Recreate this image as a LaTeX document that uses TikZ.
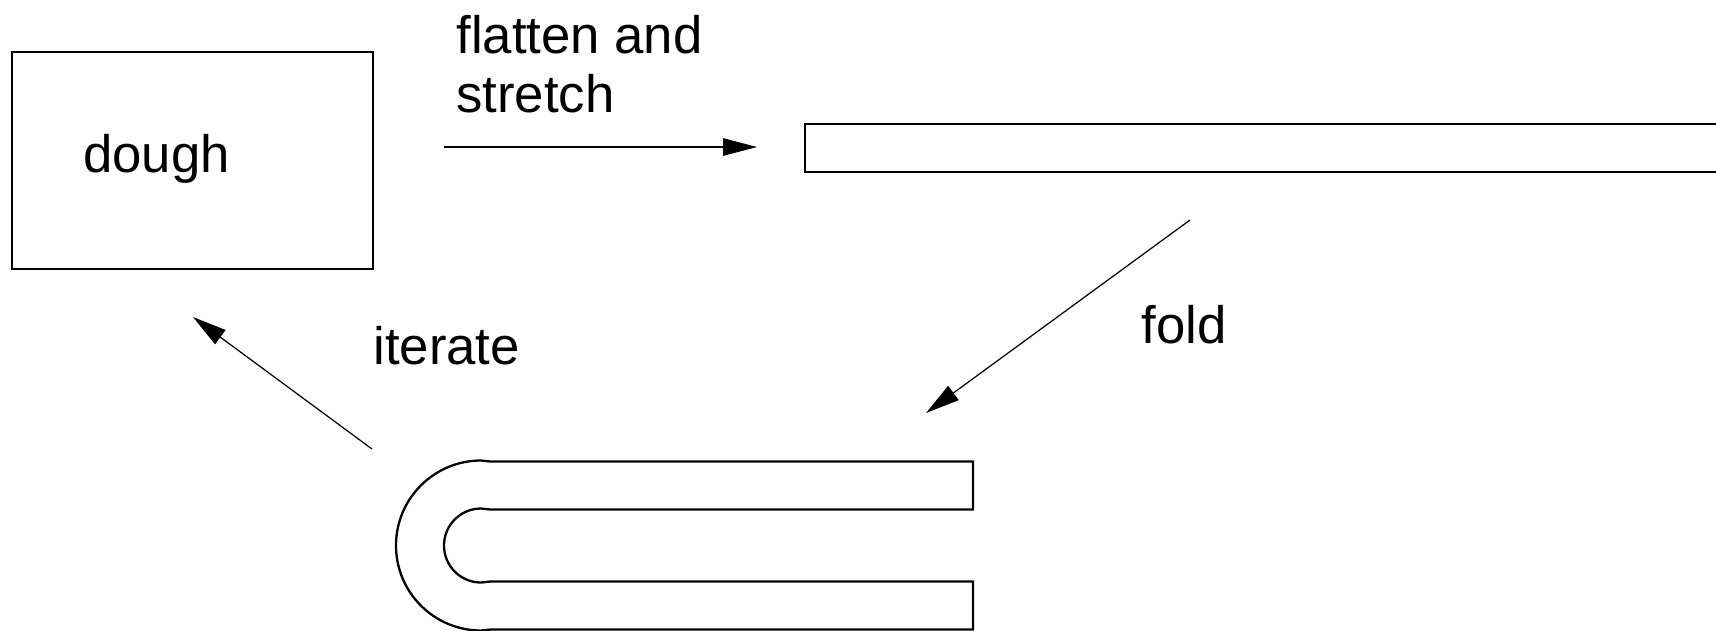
\documentclass[tikz,border=0pt]{standalone}
\usepackage{fontspec}
\setmainfont{Liberation Sans}
\usetikzlibrary{arrows.meta}
\begin{document}
\begin{tikzpicture}[x=0.02cm, y=-0.02cm,
  shape line/.style={line width=1.3pt, line join=miter},
  flow/.style={line width=0.7pt, -{Triangle[length=0.68cm, width=0.35cm]}},
  label/.style={inner sep=0pt, anchor=base west, font=\fontsize{30}{36}\selectfont}]
  \clip (0,0) rectangle (1716,630);
  \fill[white] (0,0) rectangle (1716,630);

  % lump of dough
  \node[shape line, draw, rectangle, minimum width=361*0.02cm, minimum height=217*0.02cm,
        anchor=north west, inner sep=0pt] (dough) at (11,51) {};
  \node[label] (doughtext) at (83,172) {dough};

  % flattened, stretched sheet (runs off to the right)
  \draw[shape line] (1730,124) -- (805,124) -- (805,172) -- (1730,172);
  \coordinate (sheet) at (805,148);

  % folded sheet: two arms joined by a half-ring bend
  \draw[shape line]
    (492,461.5) -- (973,461.5) -- (973,509.5) -- (492,509.5)
      .. controls (487,509.5) and (484,508.5) .. (481,508.5)
      arc[start angle=90, end angle=270, radius=37*0.02cm]
      .. controls (484,582.5) and (487,581.5) .. (492,581.5)
      -- (973,581.5) -- (973,629.5) -- (492,629.5)
      .. controls (487,629.5) and (484,630.5) .. (481,630.5)
      arc[start angle=270, end angle=90, radius=85*0.02cm]
      .. controls (484,460.5) and (487,461.5) .. cycle;

  % process arrows
  \coordinate (a1s) at (444,147);
  \coordinate (a1e) at (757,147);
  \draw[flow] (a1s) -- (a1e);
  \node[label] (flatten) at (456,53) {flatten and};
  \node[label] (stretch) at (456,112) {stretch};

  \coordinate (a2s) at (1190,220);
  \coordinate (a2e) at (926,413);
  \draw[flow] (a2s) -- (a2e);
  \node[label] (fold) at (1141,343) {fold};

  \coordinate (a3s) at (372,449);
  \coordinate (a3e) at (193,317);
  \draw[flow] (a3s) -- (a3e);
  \node[label] (iterate) at (373,364) {iterate};
\end{tikzpicture}
\end{document}
